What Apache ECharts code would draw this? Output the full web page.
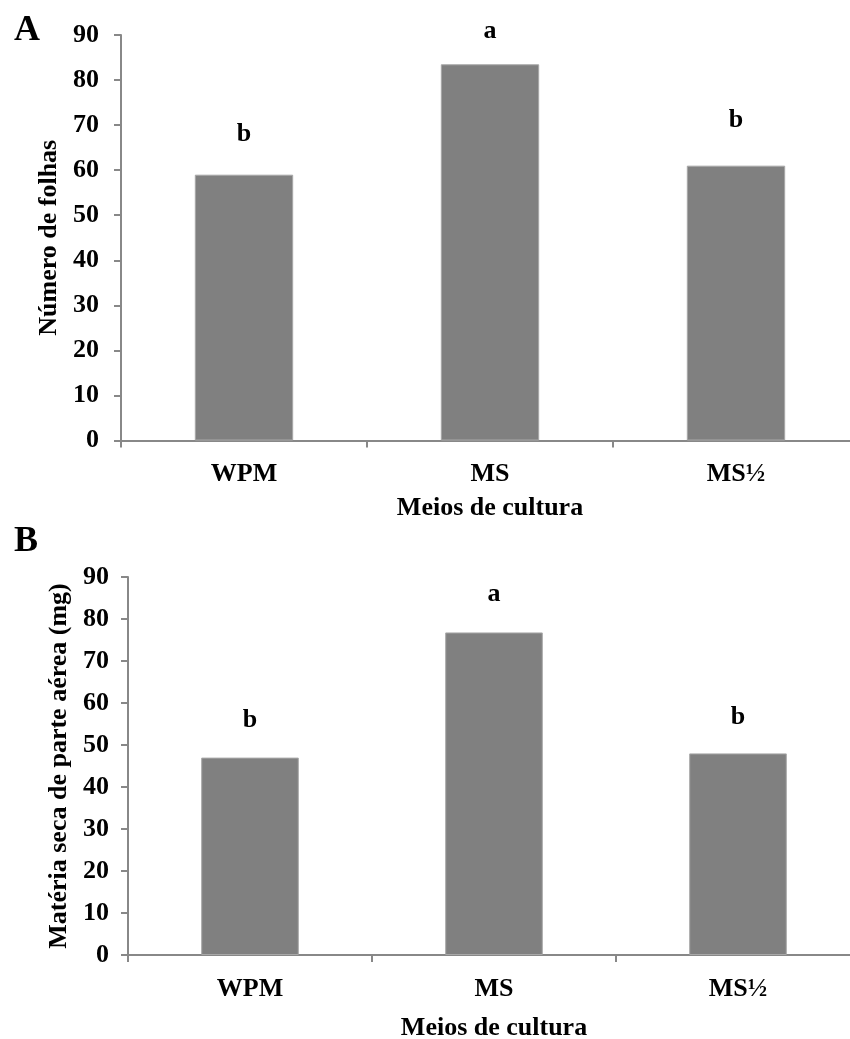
<!DOCTYPE html>
<html>
<head>
<meta charset="utf-8">
<script src="https://cdn.jsdelivr.net/npm/echarts@6/dist/echarts.min.js"></script>
<style>
html,body{margin:0;padding:0;background:#fff;}
#chart{width:850px;height:1039px;}
</style>
</head>
<body>
<div id="chart"></div>
<script>
const categories = ['WPM', 'MS', 'MS½'];
const leafCount = [59, 83.5, 61];
const leafLetters = ['b', 'a', 'b'];
const dryMass = [47, 76.8, 48];
const dryLetters = ['b', 'a', 'b'];
const yMin = 0, yMax = 90, yStep = 10;

// label gaps (style only)
const labelGapA = [27, 20, 32];
const labelGapB = [24, 25, 23];

const FONT = 'Liberation Serif';
const txt = { fontFamily: FONT, fontWeight: 'bold', color: '#000', fontSize: 26 };
const axisLineStyle = { color: '#888888', width: 2 };

function xAxis(gridIndex, margin, nameGap) {
  return {
    type: 'category', gridIndex: gridIndex, data: categories,
    name: 'Meios de cultura', nameLocation: 'middle', nameGap: nameGap,
    nameTextStyle: Object.assign({}, txt),
    axisLine: { show: true, lineStyle: axisLineStyle },
    axisTick: { show: true, alignWithLabel: false, length: 7, lineStyle: axisLineStyle },
    axisLabel: Object.assign({ margin: margin }, txt),
    splitLine: { show: false }
  };
}
function yAxis(gridIndex, name, nameGap, margin) {
  return {
    type: 'value', gridIndex: gridIndex, min: yMin, max: yMax, interval: yStep,
    name: name, nameLocation: 'middle', nameGap: nameGap, nameRotate: 90,
    nameTextStyle: Object.assign({}, txt),
    axisLine: { show: true, lineStyle: axisLineStyle },
    axisTick: { show: true, length: 7, lineStyle: axisLineStyle },
    axisLabel: Object.assign({ margin: margin }, txt),
    splitLine: { show: false }
  };
}
function barSeries(idx, values, letters, gaps) {
  return {
    type: 'bar', xAxisIndex: idx, yAxisIndex: idx,
    barWidth: '40%',
    data: values.map((v, i) => ({ value: v, label: { formatter: letters[i], distance: gaps[i] } })),
    itemStyle: { color: '#808080', borderColor: '#a8a8a8', borderWidth: 1 },
    label: Object.assign({ show: true, position: 'top', distance: 24 }, txt),
    silent: true, animation: false
  };
}

const chart = echarts.init(document.getElementById('chart'), null, { renderer: 'canvas' });
chart.setOption({
  backgroundColor: '#fff',
  animation: false,
  title: [
    { text: 'A', left: 9, top: 8, textStyle: { fontFamily: FONT, fontWeight: 'bold', fontSize: 36, color: '#000' } },
    { text: 'B', left: 9, top: 519, textStyle: { fontFamily: FONT, fontWeight: 'bold', fontSize: 36, color: '#000' } }
  ],
  grid: [
    { left: 121, top: 35, width: 738, height: 405.5, outerBoundsMode: 'none' },
    { left: 128, top: 577, width: 732, height: 378, outerBoundsMode: 'none' }
  ],
  xAxis: [xAxis(0, 21, 55), xAxis(1, 21, 60)],
  yAxis: [yAxis(0, 'Número de folhas', 50, 22), yAxis(1, 'Matéria seca de parte aérea (mg)', 50, 19)],
  series: [barSeries(0, leafCount, leafLetters, labelGapA), barSeries(1, dryMass, dryLetters, labelGapB)]
});
</script>
</body>
</html>
